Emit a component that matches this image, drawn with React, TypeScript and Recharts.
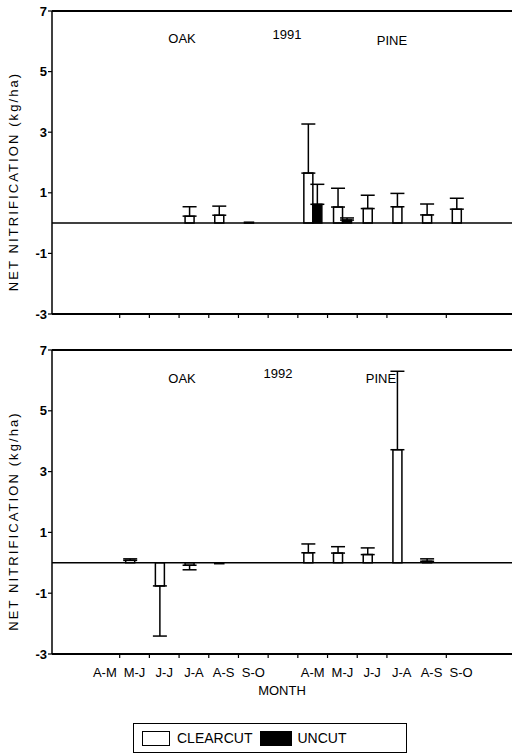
import { Bar, BarChart, CartesianGrid, ErrorBar, ReferenceLine, XAxis, YAxis } from "recharts";

const months = ["A-M", "M-J", "J-J", "J-A", "A-S", "S-O", "", "A-M", "M-J", "J-J", "J-A", "A-S", "S-O"];

// 1991: oak (first six), gap, pine (last six)
const clearcut1991 = [null, null, null, 0.23, 0.26, 0.03, null, 1.65, 0.53, 0.48, 0.54, 0.27, 0.46];
const clearcutErr1991 = [null, null, null, 0.31, 0.3, null, null, 1.62, 0.62, 0.44, 0.44, 0.36, 0.36];
const uncut1991 = [null, null, null, null, null, null, null, 0.62, 0.1, null, null, null, null];
const uncutErr1991 = [null, null, null, null, null, null, null, 0.66, 0.07, null, null, null, null];

// 1992
const clearcut1992 = [null, 0.08, -0.76, -0.08, -0.03, null, null, 0.33, 0.32, 0.27, 3.72, 0.05, null];
const clearcutErr1992 = [null, 0.05, 1.65, 0.15, null, null, null, 0.29, 0.21, 0.22, 2.58, 0.08, null];
const uncut1992 = [null, null, null, null, null, null, null, null, null, null, null, null, null];
const uncutErr1992 = [null, null, null, null, null, null, null, null, null, null, null, null, null];

const yTicks = [-3, -1, 1, 3, 5, 7];
const boundaryTicks = [0.5, 1.5, 2.5, 3.5, 4.5, 5.5, 6.5, 7.5, 8.5, 9.5, 10.5, 11.5];

const FONT = "'Liberation Sans', Arial, sans-serif";
const PAD = { left: 38, right: 36 };

const oneSided = (v: number | null, e: number | null) =>
  v == null || e == null ? null : v < 0 ? [e, 0] : [0, e];

function buildRows(cc: (number | null)[], ccErr: (number | null)[], un: (number | null)[], unErr: (number | null)[]) {
  return months.map((m, i) => ({
    month: m,
    pos: i,
    clearcut: cc[i],
    clearcutErr: oneSided(cc[i], ccErr[i]),
    uncut: un[i],
    uncutErr: oneSided(un[i], unErr[i]),
  }));
}

const rows1991 = buildRows(clearcut1991, clearcutErr1991, uncut1991, uncutErr1991);
const rows1992 = buildRows(clearcut1992, clearcutErr1992, uncut1992, uncutErr1992);

const yLabel = (props: any) => {
  const vb = props.viewBox;
  const cx = 13;
  const cy = vb.y + vb.height / 2 + 19;
  return (
    <text
      x={cx}
      y={cy}
      transform={`rotate(-90, ${cx}, ${cy})`}
      textAnchor="middle"
      dominantBaseline="central"
      fontSize={13}
      fontFamily={FONT}
      letterSpacing={2.1}
      fill="#000"
    >
      NET NITRIFICATION (kg/ha)
    </text>
  );
};

function Panel({ data, showMonths, height, bottom }: { data: any[]; showMonths: boolean; height: number; bottom: number }) {
  return (
    <BarChart
      width={512}
      height={height}
      data={data}
      margin={{ top: 11, right: 0, bottom, left: 0 }}
      barSize={9}
      barGap={0}
    >
      <CartesianGrid xAxisId="b_months" vertical={false} horizontalValues={[-3, 7]} stroke="#000" strokeWidth={2} />
      <XAxis
        xAxisId="a_ticks"
        dataKey="pos"
        type="number"
        domain={[-0.5, 12.5]}
        ticks={boundaryTicks}
        padding={PAD}
        tick={() => <g />}
        tickSize={4}
        height={6}
        axisLine={{ stroke: "#000", strokeWidth: 2 }}
        tickLine={{ stroke: "#000", strokeWidth: 1.2 }}
      />
      <XAxis
        xAxisId="b_months"
        dataKey="month"
        padding={PAD}
        hide={!showMonths}
        interval={0}
        axisLine={false}
        tickLine={false}
        tickSize={4}
        tickMargin={4}
        height={40}
        tick={{ fontSize: 13, fill: "#000", fontFamily: FONT }}
        label={{
          value: "MONTH",
          position: "insideBottom",
          offset: 5,
          style: { fontSize: 13, fill: "#000", fontFamily: FONT },
        }}
      />
      <YAxis
        domain={[-3, 7]}
        ticks={yTicks}
        interval={0}
        width={52}
        tickSize={4}
        tickMargin={1}
        axisLine={{ stroke: "#000", strokeWidth: 1.5 }}
        tickLine={{ stroke: "#000", strokeWidth: 1.2 }}
        tick={{ fontSize: 13, fill: "#000", fontFamily: FONT, fontWeight: 700 }}
        label={{ content: yLabel }}
      />
      <ReferenceLine y={0} xAxisId="b_months" stroke="#000" strokeWidth={1.5} />
      <Bar dataKey="clearcut" xAxisId="b_months" fill="#fff" stroke="#000" strokeWidth={1.5} isAnimationActive={false}>
        <ErrorBar dataKey="clearcutErr" direction="y" width={7} stroke="#000" strokeWidth={1.5} />
      </Bar>
      <Bar dataKey="uncut" xAxisId="b_months" fill="#000" stroke="#000" strokeWidth={1.5} isAnimationActive={false}>
        <ErrorBar dataKey="uncutErr" direction="y" width={7} stroke="#000" strokeWidth={1.5} />
      </Bar>
    </BarChart>
  );
}

const note = (text: string, x: number, y: number) => (
  <div
    style={{
      position: "absolute",
      left: x,
      top: y,
      transform: "translate(-50%, -50%)",
      fontSize: 13,
      fontFamily: FONT,
      color: "#000",
      whiteSpace: "nowrap",
    }}
  >
    {text}
  </div>
);

export default function App() {
  return (
    <div style={{ position: "absolute", left: 0, top: 0, width: 512, height: 755, background: "#fff", overflow: "hidden" }}>
      <div style={{ position: "absolute", left: 0, top: 0 }}>
        <Panel data={rows1991} showMonths={false} height={330} bottom={10} />
      </div>
      <div style={{ position: "absolute", left: 0, top: 339 }}>
        <Panel data={rows1992} showMonths={true} height={361} bottom={0} />
      </div>
      {note("OAK", 182, 38)}
      {note("1991", 287, 34)}
      {note("PINE", 392, 40)}
      {note("OAK", 182, 378)}
      {note("1992", 278, 373)}
      {note("PINE", 381, 378)}
      <div
        style={{
          position: "absolute",
          left: 133,
          top: 723,
          width: 274,
          height: 30,
          border: "1.5px solid #000",
          boxSizing: "border-box",
          display: "flex",
          alignItems: "center",
          fontFamily: FONT,
          fontSize: 14,
          color: "#000",
        }}
      >
        <span style={{ marginLeft: 8, width: 28, height: 15, border: "1.5px solid #000", boxSizing: "border-box", background: "#fff" }} />
        <span style={{ marginLeft: 7 }}>CLEARCUT</span>
        <span style={{ marginLeft: 8, width: 32, height: 15, background: "#000" }} />
        <span style={{ marginLeft: 5 }}>UNCUT</span>
      </div>
    </div>
  );
}
